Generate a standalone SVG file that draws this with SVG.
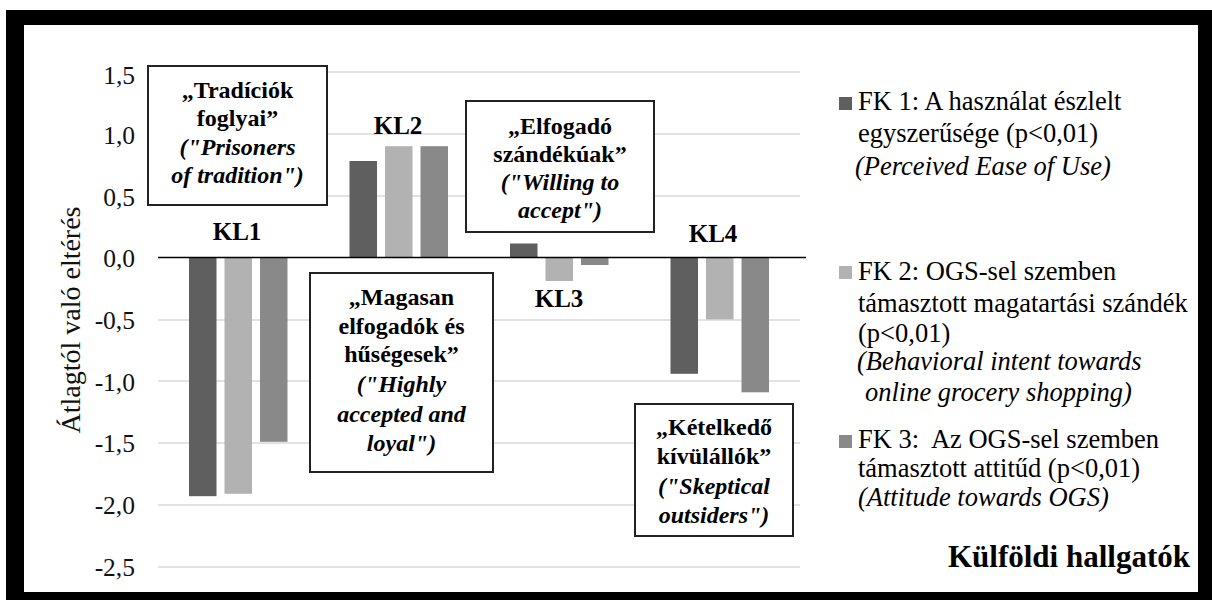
<svg xmlns="http://www.w3.org/2000/svg" width="1212" height="600" viewBox="0 0 1212 600">
<style>
.grid{stroke:#d9d9d9;stroke-width:1.6}
.axis{stroke:#000;stroke-width:1.6}
.tick{font-family:"Liberation Serif","Times New Roman",serif;font-size:25.5px;fill:#111;text-anchor:end}
.ytitle{font-family:"Liberation Serif","Times New Roman",serif;font-size:28px;fill:#111;text-anchor:middle}
.c1{fill:#5f5f5f}.c2{fill:#b2b2b2}.c3{fill:#898989}
.kl{font-family:"Liberation Serif","Times New Roman",serif;font-size:25px;font-weight:bold;fill:#000;text-anchor:middle}
.box{fill:#fff;stroke:#222;stroke-width:2}
.bt{font-family:"Liberation Serif","Times New Roman",serif;font-size:24px;font-weight:bold;fill:#000;text-anchor:middle}
.bi{font-style:italic}
.lg{font-family:"Liberation Serif","Times New Roman",serif;font-size:26.5px;fill:#000}
.li{font-style:italic}
.title{font-family:"Liberation Serif","Times New Roman",serif;font-size:31px;font-weight:bold;fill:#000;text-anchor:end}
</style>
<rect x="0" y="0" width="1212" height="600" fill="#fff"/>
<rect x="6" y="10" width="1206" height="590" fill="#000"/>
<rect x="24" y="25" width="1174" height="567" fill="#fff"/>

<g id="gridlines">
<line class="grid" x1="158" y1="72" x2="800" y2="72"/>
<line class="grid" x1="158" y1="134" x2="800" y2="134"/>
<line class="grid" x1="158" y1="196" x2="800" y2="196"/>
<line class="grid" x1="158" y1="320" x2="800" y2="320"/>
<line class="grid" x1="158" y1="381" x2="800" y2="381"/>
<line class="grid" x1="158" y1="443" x2="800" y2="443"/>
<line class="grid" x1="158" y1="505" x2="800" y2="505"/>
<line class="grid" x1="158" y1="567" x2="800" y2="567"/>
</g>

<g id="y-axis">
<text class="tick" x="135" y="84">1,5</text>
<text class="tick" x="135" y="144">1,0</text>
<text class="tick" x="135" y="206">0,5</text>
<text class="tick" x="135" y="267">0,0</text>
<text class="tick" x="135" y="329">-0,5</text>
<text class="tick" x="135" y="391">-1,0</text>
<text class="tick" x="135" y="452">-1,5</text>
<text class="tick" x="135" y="514">-2,0</text>
<text class="tick" x="135" y="576">-2,5</text>
<text class="ytitle" transform="translate(80,320) rotate(-90)">Átlagtól való eltérés</text>
</g>

<g id="bars">
<g id="KL1-bars">
<rect class="c1" x="189" y="257.5" width="27.5" height="238.7"/>
<rect class="c2" x="224.5" y="257.5" width="27.5" height="236.3"/>
<rect class="c3" x="260" y="257.5" width="27.5" height="184.3"/>
</g>
<g id="KL2-bars">
<rect class="c1" x="349.5" y="161" width="27.5" height="96.5"/>
<rect class="c2" x="385" y="146.2" width="27.5" height="111.3"/>
<rect class="c3" x="420.5" y="146.2" width="27.5" height="111.3"/>
</g>
<g id="KL3-bars">
<rect class="c1" x="510" y="243.5" width="27.5" height="14"/>
<rect class="c2" x="545.5" y="257.5" width="27.5" height="23.5"/>
<rect class="c3" x="581" y="257.5" width="27.5" height="7.5"/>
</g>
<g id="KL4-bars">
<rect class="c1" x="670.5" y="257.5" width="27.5" height="116.3"/>
<rect class="c2" x="706" y="257.5" width="27.5" height="61.9"/>
<rect class="c3" x="741.5" y="257.5" width="27.5" height="134.8"/>
</g>
</g>
<line class="axis" x1="158" y1="257.5" x2="806" y2="257.5"/>

<g id="cluster-labels">
<text class="kl" x="237" y="240">KL1</text>
<text class="kl" x="398" y="134">KL2</text>
<text class="kl" x="559" y="307">KL3</text>
<text class="kl" x="713" y="242">KL4</text>
</g>

<g id="box-KL1">
<rect class="box" x="148" y="66" width="179" height="139"/>
<text class="bt" x="237.5" y="98">„Tradíciók</text>
<text class="bt" x="237.5" y="126">foglyai”</text>
<text class="bt bi" x="237.5" y="155">("Prisoners</text>
<text class="bt bi" x="237.5" y="183">of tradition")</text>
</g>

<g id="box-KL2">
<rect class="box" x="310" y="273" width="183" height="199"/>
<text class="bt" x="401.5" y="305">„Magasan</text>
<text class="bt" x="401.5" y="334">elfogadók és</text>
<text class="bt" x="401.5" y="362">hűségesek”</text>
<text class="bt bi" x="401.5" y="392">("Highly</text>
<text class="bt bi" x="401.5" y="422">accepted and</text>
<text class="bt bi" x="401.5" y="451">loyal")</text>
</g>

<g id="box-KL3">
<rect class="box" x="466" y="101" width="188" height="131"/>
<text class="bt" x="560" y="134">„Elfogadó</text>
<text class="bt" x="560" y="162">szándékúak”</text>
<text class="bt bi" x="560" y="190">("Willing to</text>
<text class="bt bi" x="560" y="218">accept")</text>
</g>

<g id="box-KL4">
<rect class="box" x="635" y="404" width="158" height="132"/>
<text class="bt" x="714" y="435">„Kételkedő</text>
<text class="bt" x="714" y="464">kívülállók”</text>
<text class="bt bi" x="714" y="494">("Skeptical</text>
<text class="bt bi" x="714" y="523">outsiders")</text>
</g>

<g id="legend-FK1">
<rect class="c1" x="839" y="97" width="13" height="13"/>
<text class="lg" x="858" y="110">FK 1: A használat észlelt</text>
<text class="lg" x="858" y="142">egyszerűsége (p&lt;0,01)</text>
<text class="lg li" x="855" y="175">(Perceived Ease of Use)</text>
</g>

<g id="legend-FK2">
<rect class="c2" x="839" y="266" width="13" height="13"/>
<text class="lg" x="858" y="280">FK 2: OGS-sel szemben</text>
<text class="lg" x="858" y="312">támasztott magatartási szándék</text>
<text class="lg" x="858" y="342">(p&lt;0,01)</text>
<text class="lg li" x="857" y="370">(Behavioral intent towards</text>
<text class="lg li" x="865" y="401">online grocery shopping)</text>
</g>

<g id="legend-FK3">
<rect class="c3" x="839" y="435" width="13" height="13"/>
<text class="lg" x="858" y="448" xml:space="preserve">FK 3:  Az OGS-sel szemben</text>
<text class="lg" x="858" y="477">támasztott attitűd (p&lt;0,01)</text>
<text class="lg li" x="858" y="506">(Attitude towards OGS)</text>
</g>

<g id="title">
<text class="title" x="1190" y="567">Külföldi hallgatók</text>
</g>
</svg>
